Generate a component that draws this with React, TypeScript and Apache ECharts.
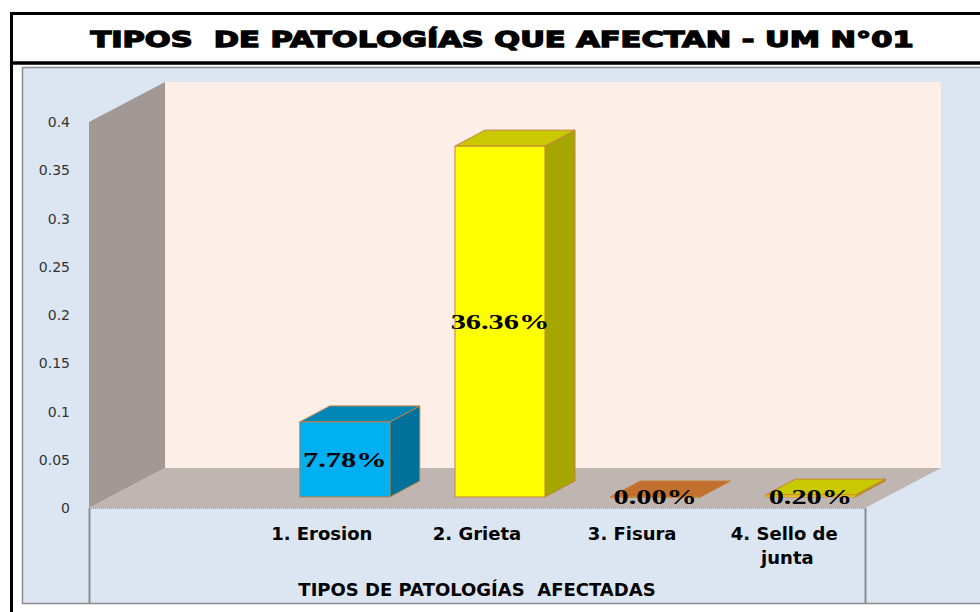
import React, { useEffect, useRef } from 'react';
import * as echarts from 'echarts';

const categories = ['', '1. Erosion', '2. Grieta', '3. Fisura', '4. Sello de junta'];
const values: (number | null)[] = [null, 0.0778, 0.3636, 0.0, 0.002];
const yMin = 0;
const yMax = 0.4;
const yInterval = 0.05;
const titleText = 'TIPOS  DE PATOLOGÍAS QUE AFECTAN - UM N°01';
const axisTitle = 'TIPOS DE PATOLOGÍAS  AFECTADAS';

const barColors: ({ front: string; side: string; top: string } | null)[] = [
  null,
  { front: '#00b0f0', side: '#00719b', top: '#0087b7' },
  { front: '#ffff00', side: '#a6a600', top: '#c9c900' },
  { front: '#f79646', side: '#a4581c', top: '#c2702e' },
  { front: '#ffff00', side: '#a6a600', top: '#c9c900' },
];

// 3D look
const DX = 76;
const DY = -40;
const BX = 30;
const BY = -16;
const OFF_X = 23;
const OFF_Y = -11;

export default function App() {
  const ref = useRef<HTMLDivElement>(null);

  useEffect(() => {
    if (!ref.current) return;
    const chart = echarts.init(ref.current, undefined, { renderer: 'svg' });

    const barData = values
      .map((v, i) => (v == null ? null : [i, v]))
      .filter((d) => d != null) as number[][];

    const option: any = {
      animation: false,
      graphic: [
        {
          type: 'rect',
          z: -20,
          shape: { x: 11.5, y: 13.5, width: 1000, height: 620 },
          style: { fill: '#ffffff', stroke: '#000000', lineWidth: 3 },
        },
        {
          type: 'line',
          z: -19,
          shape: { x1: 11, y1: 63, x2: 1000, y2: 63 },
          style: { stroke: '#000000', lineWidth: 3.5 },
        },
        {
          type: 'rect',
          z: -18,
          shape: { x: 22.5, y: 67.5, width: 970, height: 536 },
          style: { fill: '#dce6f2', stroke: '#8c8c8c', lineWidth: 1.5 },
        },
        {
          type: 'line',
          z: -17,
          shape: { x1: 89.5, y1: 508, x2: 89.5, y2: 603 },
          style: { stroke: '#8c8c8c', lineWidth: 2 },
        },
        {
          type: 'line',
          z: -17,
          shape: { x1: 865.5, y1: 508, x2: 865.5, y2: 603 },
          style: { stroke: '#8c8c8c', lineWidth: 2 },
        },
        {
          type: 'text',
          z: 10,
          x: 502,
          y: 40,
          scaleX: 1.45,
          style: {
            text: titleText,
            fontFamily: 'DejaVu Sans',
            fontWeight: 'bold',
            fontSize: 21,
            fill: '#000000',
            stroke: '#000000',
            lineWidth: 1.3,
            align: 'center',
            verticalAlign: 'middle',
            textAlign: 'center',
            textVerticalAlign: 'middle',
          },
        },
      ],
      grid: { left: 89, right: 115, top: 122, bottom: 104, containLabel: false },
      xAxis: {
        type: 'category',
        data: categories,
        boundaryGap: true,
        axisLine: { show: false },
        axisTick: { show: false },
        splitLine: { show: false },
        axisLabel: {
          interval: 0,
          margin: 13,
          fontFamily: 'DejaVu Sans',
          fontWeight: 'bold',
          fontSize: 18,
          color: '#000000',
          lineHeight: 24,
          width: 145,
          overflow: 'break',
        },
        name: axisTitle,
        nameLocation: 'middle',
        nameGap: 72,
        nameTextStyle: {
          fontFamily: 'DejaVu Sans',
          fontWeight: 'bold',
          fontSize: 18,
          color: '#000000',
        },
      },
      yAxis: {
        type: 'value',
        min: yMin,
        max: yMax,
        interval: yInterval,
        axisLine: { show: false },
        axisTick: { show: false },
        splitLine: { show: false },
        axisLabel: {
          margin: 19,
          fontFamily: 'DejaVu Sans',
          fontSize: 14,
          color: '#333333',
        },
      },
      series: [
        {
          type: 'custom',
          z: 1,
          silent: true,
          clip: false,
          data: [[0, 0]],
          renderItem: (params: any) => {
            const cs = params.coordSys;
            const x = cs.x;
            const y = cs.y;
            const w = cs.width;
            const h = cs.height;
            return {
              type: 'group',
              children: [
                {
                  type: 'rect',
                  shape: { x: x + DX, y: y + DY, width: w, height: h },
                  style: { fill: '#fdeee7' },
                },
                {
                  type: 'polygon',
                  shape: { points: [[x, y], [x + DX, y + DY], [x + DX, y + h + DY], [x, y + h]] },
                  style: { fill: '#a29994' },
                },
                {
                  type: 'polygon',
                  shape: {
                    points: [[x, y + h], [x + DX, y + h + DY], [x + w + DX, y + h + DY], [x + w, y + h]],
                  },
                  style: { fill: '#c0b6b1' },
                },
                {
                  type: 'line',
                  shape: { x1: x, y1: y + h + 0.5, x2: x + w, y2: y + h + 0.5 },
                  style: { stroke: '#9a9a9a', lineWidth: 1, lineDash: [1, 1] },
                },
              ],
            };
          },
        },
        {
          type: 'custom',
          z: 2,
          clip: false,
          data: barData,
          renderItem: (params: any, api: any) => {
            const i = api.value(0) as number;
            const v = api.value(1) as number;
            const base = api.coord([i, 0]);
            const top = api.coord([i, v]);
            const band = api.size([1, 0])[0];
            const w = band * 0.58;
            const fx = base[0] + OFF_X - w / 2;
            const by = base[1] + OFF_Y;
            const ty = top[1] + OFF_Y;
            const c = barColors[i] || { front: '#999', side: '#666', top: '#777' };
            const stroke = '#c5813f';
            return {
              type: 'group',
              children: [
                {
                  type: 'polygon',
                  shape: {
                    points: [[fx + w, ty], [fx + w + BX, ty + BY], [fx + w + BX, by + BY], [fx + w, by]],
                  },
                  style: { fill: c.side, stroke, lineWidth: 1 },
                },
                {
                  type: 'polygon',
                  shape: {
                    points: [[fx, ty], [fx + w, ty], [fx + w + BX, ty + BY], [fx + BX, ty + BY]],
                  },
                  style: { fill: c.top, stroke, lineWidth: 1 },
                },
                {
                  type: 'rect',
                  shape: { x: fx, y: ty, width: w, height: by - ty },
                  style: { fill: c.front, stroke, lineWidth: 1 },
                },
                {
                  type: 'text',
                  x: fx + w / 2,
                  y: (ty + by) / 2,
                  scaleX: 1.38,
                  style: {
                    text: (v * 100).toFixed(2) + '%',
                    fontFamily: 'Liberation Serif',
                    fontWeight: 'bold',
                    fontSize: 22,
                    fill: '#000000',
                    align: 'center',
                    verticalAlign: 'middle',
                  },
                },
              ],
            };
          },
        },
      ],
    };

    chart.setOption(option);
    return () => {
      chart.dispose();
    };
  }, []);

  return (
    <div
      ref={ref}
      style={{ position: 'fixed', left: 0, top: 0, width: 980, height: 612, background: '#ffffff' }}
    />
  );
}
